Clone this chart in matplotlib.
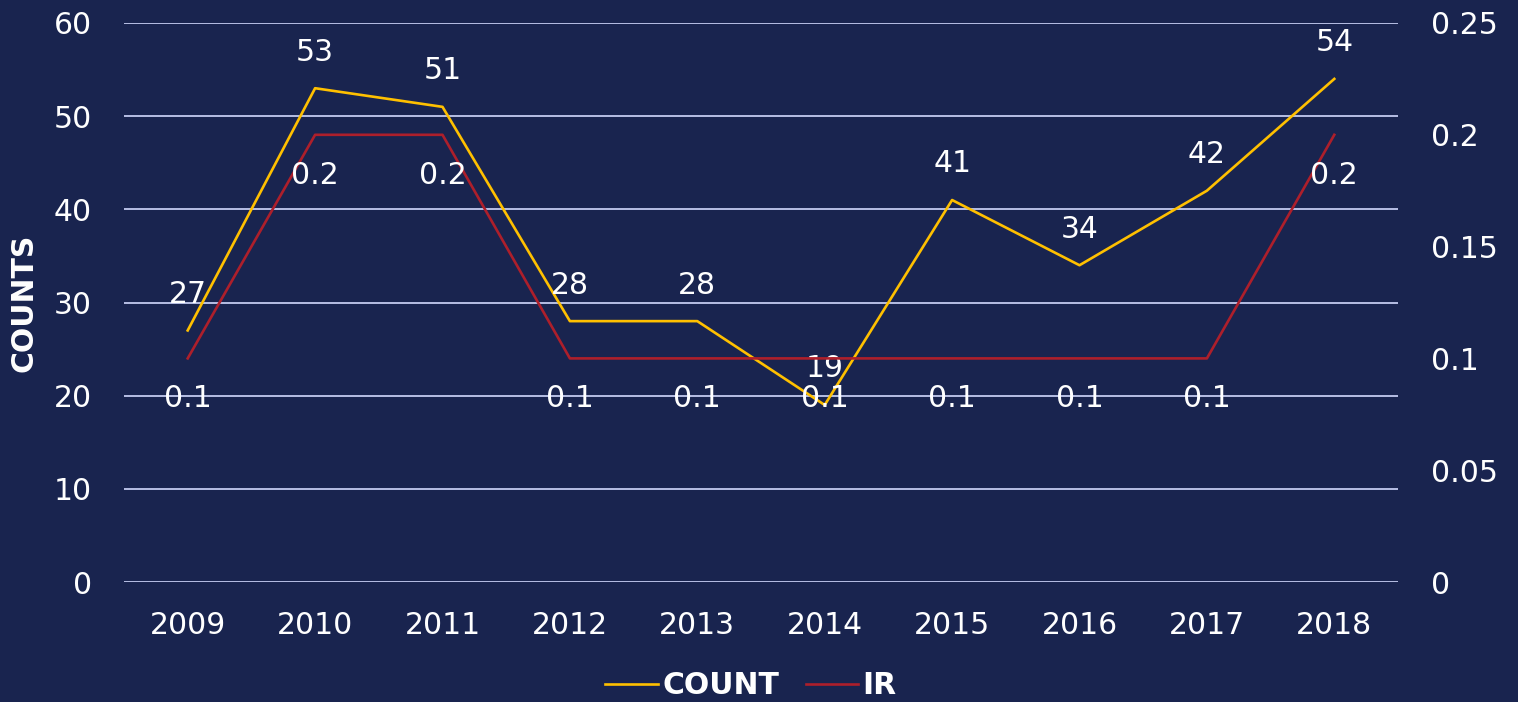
import matplotlib
matplotlib.use("Agg")
import matplotlib.pyplot as plt

years = ["2009", "2010", "2011", "2012", "2013", "2014", "2015", "2016", "2017", "2018"]
counts = [27, 53, 51, 28, 28, 19, 41, 34, 42, 54]
ir = [0.1, 0.2, 0.2, 0.1, 0.1, 0.1, 0.1, 0.1, 0.1, 0.2]

BG = "#19244f"
YEL = "#ffc000"
RED = "#ad1f2b"
GRID = "#c3cbf0"
WHITE = "white"
FS = 21.5

plt.rcParams['font.family'] = ['Verdana', 'DejaVu Sans']

fig = plt.figure(figsize=(15.18, 7.02), dpi=100, facecolor=BG)
ax = fig.add_axes([124/1518, 1-582/702, (1398-124)/1518, (582-23)/702])
ax.set_facecolor(BG)
ax2 = ax.twinx()

x = list(range(len(years)))
l1, = ax.plot(x, counts, color=YEL, lw=1.9, label="COUNT", zorder=3)
l2, = ax2.plot(x, ir, color=RED, lw=1.9, label="IR", zorder=3)

ax.set_ylim(0, 60)
ax.set_yticks(range(0, 61, 10))
ax2.set_ylim(0, 0.25)
ax2.set_yticks([0, 0.05, 0.1, 0.15, 0.2, 0.25])
ax2.set_yticklabels(["0", "0.05", "0.1", "0.15", "0.2", "0.25"])
ax.set_xlim(-0.5, len(years) - 0.5)
ax.set_xticks(x)
ax.set_xticklabels(years)

ax.grid(axis='y', color=GRID, lw=1.3, zorder=0)
ax.set_axisbelow(True)
for a in (ax, ax2):
    for s in a.spines.values():
        s.set_visible(False)
    a.tick_params(length=0, colors=WHITE, labelsize=FS)
ax.tick_params(axis='x', pad=21)
ax.tick_params(axis='y', pad=23)
ax2.tick_params(axis='y', pad=24)

ax.set_ylabel("COUNTS", color=WHITE, fontsize=FS, fontweight='bold', va='center')
ax.yaxis.set_label_coords((24-124)/1274, 0.5)

for xi, c in zip(x, counts):
    ax.annotate(str(c), (xi, c), xytext=(0, 26), textcoords='offset points',
                ha='center', va='center', color=WHITE, fontsize=FS, zorder=5)
for xi, r in zip(x, ir):
    ax2.annotate(f"{r:g}", (xi, r), xytext=(0, -29), textcoords='offset points',
                 ha='center', va='center', color=WHITE, fontsize=FS, zorder=5)

leg = fig.legend(handles=[l1, l2], loc='center', bbox_to_anchor=(751/1518, 1-686/702),
                 ncol=2, frameon=False, handlelength=1.75,
                 handletextpad=0.15, columnspacing=0.9, borderpad=0,
                 prop={'weight': 'bold', 'size': FS})
for t in leg.get_texts():
    t.set_color(WHITE)

fig.savefig("out.png", dpi=100, facecolor=BG)
